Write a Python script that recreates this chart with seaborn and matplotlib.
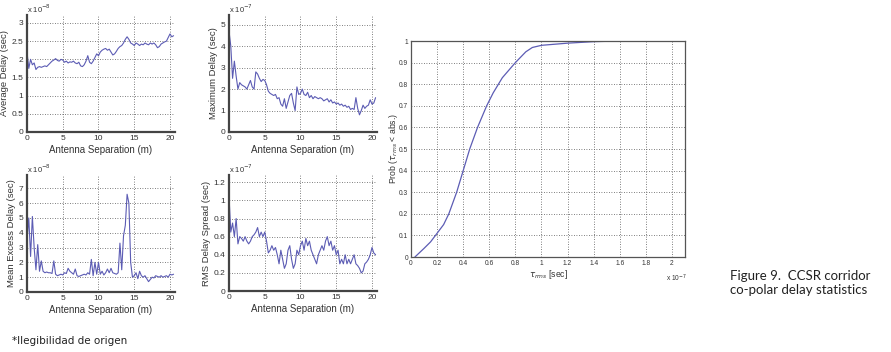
import numpy as np
import pandas as pd
import matplotlib
matplotlib.use("Agg")
import matplotlib.pyplot as plt
import seaborn as sns

# Antenna separation grid (m), 0.25 m steps
separation = np.arange(0, 20.75, 0.25)

# Average delay (x 1e-8 s)
avg_delay = [2.2, 1.75, 2.0, 1.85, 1.9, 1.72, 1.78, 1.8, 1.78, 1.8, 1.82, 1.8, 1.85, 1.9, 1.95, 1.98,
             2.02, 1.97, 1.95, 2.0, 1.98, 1.92, 1.95, 1.9, 1.93, 1.92, 1.95, 1.9, 1.88, 1.92, 1.82, 1.8,
             1.85, 1.95, 2.1, 1.92, 1.88, 1.95, 2.05, 2.15, 2.1, 2.2, 2.25, 2.28, 2.3, 2.25, 2.28, 2.2,
             2.12, 2.15, 2.22, 2.3, 2.35, 2.38, 2.45, 2.55, 2.62, 2.55, 2.45, 2.42, 2.38, 2.45, 2.42, 2.38,
             2.42, 2.4, 2.45, 2.42, 2.4, 2.45, 2.42, 2.45, 2.4, 2.32, 2.35, 2.42, 2.45, 2.48, 2.5, 2.6,
             2.7, 2.62, 2.65]

# Maximum delay (x 1e-7 s)
max_delay = [4.7, 4.0, 2.5, 3.3, 2.6, 2.0, 2.3, 2.2, 2.15, 2.1, 2.0, 2.2, 2.4, 2.1, 2.0, 2.8,
             2.7, 2.5, 2.35, 2.45, 2.4, 2.2, 1.9, 1.8, 1.75, 1.7, 1.75, 1.55, 1.6, 1.3, 1.2, 1.55,
             1.1, 1.4, 1.7, 1.8, 1.35, 1.0, 2.1, 1.75, 1.8, 2.0, 1.75, 1.7, 1.85, 1.6, 1.7, 1.55,
             1.65, 1.6, 1.55, 1.6, 1.55, 1.45, 1.5, 1.55, 1.4, 1.5, 1.35, 1.4, 1.3, 1.35, 1.25, 1.3,
             1.2, 1.25, 1.15, 1.2, 1.05, 1.1, 1.05, 1.6, 1.1, 0.8, 1.0, 1.25, 1.1, 1.2, 1.25, 1.5,
             1.3, 1.35, 1.6]

# Mean excess delay (x 1e-8 s)
mean_excess = [3.5, 5.0, 2.4, 5.1, 3.0, 1.5, 3.2, 1.4, 2.1, 1.4, 1.3, 1.35, 1.3, 1.3, 1.25, 2.1,
               1.2, 1.1, 1.15, 1.2, 1.15, 1.3, 1.25, 1.6, 1.4, 1.3, 1.2, 1.55, 1.1, 1.05, 1.1, 1.15,
               1.2, 1.15, 1.3, 1.2, 2.2, 1.1, 2.0, 1.2, 2.0, 1.2, 1.4, 1.15, 1.3, 1.55, 1.3, 1.6,
               1.3, 1.25, 1.2, 1.3, 3.3, 1.5, 3.8, 4.5, 6.6, 6.0, 2.0, 1.0, 1.1, 1.3, 0.9, 1.4,
               1.1, 1.0, 1.1, 0.9, 0.7, 0.85, 1.0, 0.95, 1.1, 1.05, 1.0, 1.1, 1.0, 1.05, 1.1, 1.0,
               1.2, 1.15, 1.2]

# RMS delay spread (x 1e-7 s)
rms_spread = [1.05, 0.65, 0.75, 0.6, 0.8, 0.52, 0.6, 0.58, 0.55, 0.6, 0.55, 0.52, 0.55, 0.6, 0.62, 0.65,
              0.7, 0.6, 0.65, 0.6, 0.65, 0.55, 0.42, 0.45, 0.5, 0.45, 0.48, 0.4, 0.3, 0.45, 0.35, 0.25,
              0.3, 0.45, 0.5, 0.35, 0.25, 0.3, 0.45, 0.4, 0.5, 0.55, 0.45, 0.58, 0.5, 0.55, 0.45, 0.4,
              0.35, 0.3, 0.4, 0.45, 0.5, 0.45, 0.55, 0.6, 0.5, 0.55, 0.45, 0.5, 0.4, 0.45, 0.3, 0.35,
              0.3, 0.4, 0.3, 0.35, 0.3, 0.35, 0.4, 0.3, 0.28, 0.25, 0.2, 0.22, 0.3, 0.32, 0.35, 0.4,
              0.48, 0.42, 0.4]

# CDF of rms delay spread (x 1e-7 s)
cdf_tau = [0.03, 0.1, 0.15, 0.2, 0.25, 0.29, 0.35, 0.4, 0.45, 0.51, 0.58, 0.63, 0.7, 0.8, 0.88,
           0.93, 1.0, 1.2, 1.4, 1.6, 2.1]
cdf_prob = [0.0, 0.04, 0.07, 0.11, 0.15, 0.2, 0.3, 0.4, 0.5, 0.6, 0.7, 0.76, 0.83, 0.9, 0.95,
            0.97, 0.98, 0.99, 0.997, 1.0, 1.0]

sns.set_theme(style="white")
plt.rcParams['font.family'] = ['Liberation Sans', 'DejaVu Sans']

LINE = '#5c5cb4'
TXT = '#333333'
GRID = '#555555'
W, H = 891, 352


def ax_at(fig, left, top, right, bottom):
    return fig.add_axes([left / W, 1 - bottom / H, (right - left) / W, (bottom - top) / H])


def small_panel(ax, y, ylabel, ylim, yticks, ylabels, mult):
    df = pd.DataFrame({'sep': separation, 'val': y})
    sns.lineplot(data=df, x='sep', y='val', ax=ax, color=LINE, linewidth=0.8)
    ax.set_xlim(0, 20.7)
    ax.set_ylim(*ylim)
    ax.set_xticks([0, 5, 10, 15, 20])
    ax.set_yticks(yticks)
    ax.set_yticklabels(ylabels)
    ax.grid(True, color=GRID, linestyle=(0, (1, 2)), linewidth=0.6)
    for s in ['top', 'right']:
        ax.spines[s].set_visible(False)
    for s in ['left', 'bottom']:
        ax.spines[s].set_color('#444444')
        ax.spines[s].set_linewidth(1.6)
    ax.tick_params(labelsize=6, colors=TXT, length=0, pad=2.5)
    ax.set_xlabel('Antenna Separation (m)', fontsize=7, color=TXT, labelpad=2)
    ax.set_ylabel(ylabel, fontsize=6.8, color=TXT, labelpad=2)
    ax.text(0.0, 1.0, mult, transform=ax.transAxes, fontsize=5.5, color=TXT,
            ha='left', va='bottom')


fig = plt.figure(figsize=(8.91, 3.52), dpi=100)

ax1 = ax_at(fig, 27, 15, 175, 132)
small_panel(ax1, avg_delay, 'Average Delay (sec)', (0, 3.22),
            [0, 0.5, 1, 1.5, 2, 2.5, 3], ['0', '0.5', '1', '1.5', '2', '2.5', '3'],
            r'x 10$^{-8}$')

ax2 = ax_at(fig, 229, 15, 377, 132)
small_panel(ax2, max_delay, 'Maximum Delay (sec)', (0, 5.45),
            [0, 1, 2, 3, 4, 5], ['0', '1', '2', '3', '4', '5'], r'x 10$^{-7}$')

ax3 = ax_at(fig, 27, 175, 175, 292)
small_panel(ax3, mean_excess, 'Mean Excess Delay (sec)', (0, 7.9),
            [0, 1, 2, 3, 4, 5, 6, 7], ['0', '1', '2', '3', '4', '5', '6', '7'],
            r'x 10$^{-8}$')

ax4 = ax_at(fig, 229, 175, 377, 291)
small_panel(ax4, rms_spread, 'RMS Delay Spread (sec)', (0, 1.28),
            [0, 0.2, 0.4, 0.6, 0.8, 1.0, 1.2], ['0', '0.2', '0.4', '0.6', '0.8', '1', '1.2'],
            r'x 10$^{-7}$')

# CDF panel
ax5 = ax_at(fig, 411, 41, 685, 257)
cdf = pd.DataFrame({'tau': cdf_tau, 'prob': cdf_prob})
sns.lineplot(data=cdf, x='tau', y='prob', ax=ax5, color=LINE, linewidth=0.9)
ax5.set_xlim(0, 2.1)
ax5.set_ylim(0, 1)
xt = [0, 0.2, 0.4, 0.6, 0.8, 1.0, 1.2, 1.4, 1.6, 1.8, 2.0]
ax5.set_xticks(xt)
ax5.set_xticklabels(['0', '0.2', '0.4', '0.6', '0.8', '1', '1.2', '1.4', '1.6', '1.8', '2'])
yt = [0, 0.1, 0.2, 0.3, 0.4, 0.5, 0.6, 0.7, 0.8, 0.9, 1.0]
ax5.set_yticks(yt)
ax5.set_yticklabels(['0', '0.1', '0.2', '0.3', '0.4', '0.5', '0.6', '0.7', '0.8', '0.9', '1'])
ax5.grid(True, color=GRID, linestyle=(0, (1, 2)), linewidth=0.6)
for s in ax5.spines.values():
    s.set_color('#555555')
    s.set_linewidth(0.9)
ax5.tick_params(labelsize=4.8, colors=TXT, length=0, pad=2)
ax5.set_xlabel(r'$\tau_{rms}$ [sec]', fontsize=6.2, color=TXT, labelpad=1)
ax5.set_ylabel(r'Prob ($\tau_{rms}$ < abs.)', fontsize=6.2, color=TXT, labelpad=-1)
ax5.text(0.97, -0.1, r'x 10$^{-7}$', transform=ax5.transAxes, fontsize=4.8, color=TXT,
         ha='center', va='center')

fig.text(730 / W, 1 - 283 / H, 'Figure 9.  CCSR corridor\nco-polar delay statistics',
         fontsize=9.5, color='#222222', family=['Lato', 'DejaVu Sans'],
         ha='left', va='center', linespacing=1.1)
fig.text(12 / W, 1 - 341 / H, '*Ilegibilidad de origen', fontsize=7.5, color='#222222',
         family=['DejaVu Sans'], ha='left', va='center')

fig.savefig('out.png', dpi=100)
